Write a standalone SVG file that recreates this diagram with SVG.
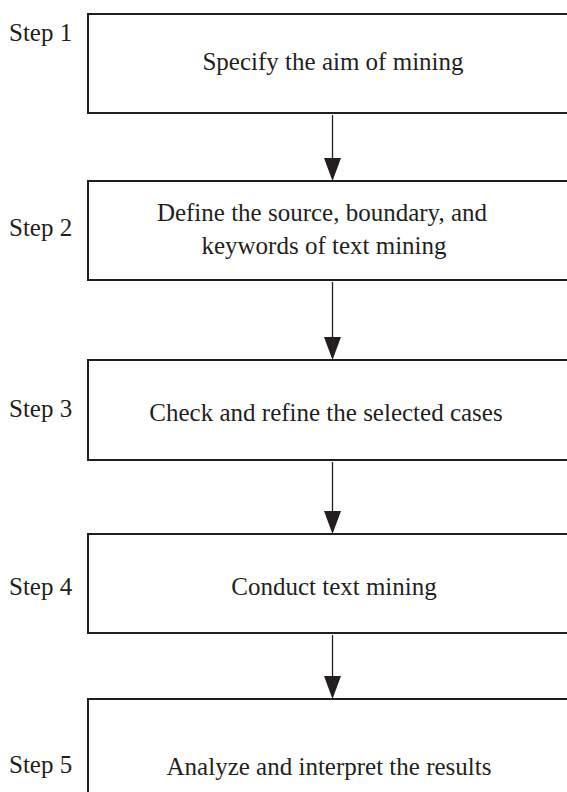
<svg xmlns="http://www.w3.org/2000/svg" width="567" height="792" viewBox="0 0 567 792">
<style>
.box{fill:#fff;stroke:#231f20;stroke-width:2}
.t{font-family:"Liberation Serif","Times New Roman",serif;font-size:25px;fill:#231f20}
.c{text-anchor:middle}
.ln{stroke:#231f20;stroke-width:1.3;fill:none}
.hd{fill:#231f20}
</style>
<rect width="567" height="792" fill="#fff"/>
<g id="step1">
<rect class="box" x="88" y="14" width="500" height="99"/>
<text class="t" x="9" y="41">Step 1</text>
<text class="t c" x="333" y="70">Specify the aim of mining</text>
</g>
<g id="step2">
<rect class="box" x="88" y="181" width="500" height="99"/>
<text class="t" x="9" y="236">Step 2</text>
<text class="t c" x="322" y="221">Define the source, boundary, and</text>
<text class="t c" x="324" y="254">keywords of text mining</text>
</g>
<g id="step3">
<rect class="box" x="88" y="360" width="500" height="100"/>
<text class="t" x="9" y="417">Step 3</text>
<text class="t c" x="326" y="421">Check and refine the selected cases</text>
</g>
<g id="step4">
<rect class="box" x="88" y="534" width="500" height="99"/>
<text class="t" x="9" y="595">Step 4</text>
<text class="t c" x="334" y="595">Conduct text mining</text>
</g>
<g id="step5">
<rect class="box" x="88" y="699" width="500" height="120"/>
<text class="t" x="9" y="773">Step 5</text>
<text class="t c" x="329" y="775">Analyze and interpret the results</text>
</g>
<g id="connectors">
<line class="ln" x1="332.5" y1="115" x2="332.5" y2="160"/>
<polygon class="hd" points="324,158 341,158 332.5,181"/>
<line class="ln" x1="332.5" y1="282" x2="332.5" y2="339"/>
<polygon class="hd" points="324,337 341,337 332.5,360"/>
<line class="ln" x1="332.5" y1="462" x2="332.5" y2="513"/>
<polygon class="hd" points="324,511 341,511 332.5,534"/>
<line class="ln" x1="332.5" y1="635" x2="332.5" y2="678"/>
<polygon class="hd" points="324,676 341,676 332.5,699"/>
</g>
</svg>
